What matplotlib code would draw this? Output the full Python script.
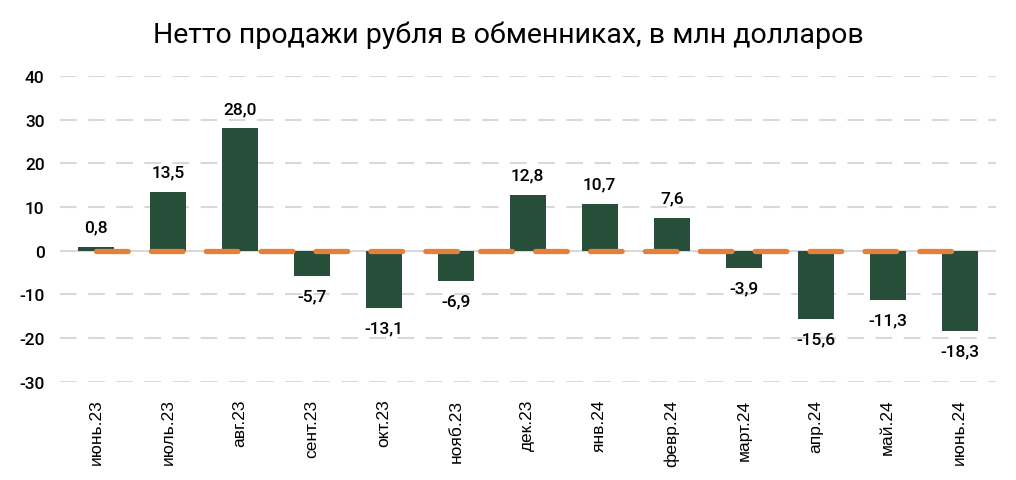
import numpy as np
import matplotlib
matplotlib.use("Agg")
import matplotlib.pyplot as plt

# данные
months = ["июнь.23", "июль.23", "авг.23", "сент.23", "окт.23", "нояб.23", "дек.23",
          "янв.24", "февр.24", "март.24", "апр.24", "май.24", "июнь.24"]
net_sales = [0.8, 13.5, 28.0, -5.7, -13.1, -6.9, 12.8, 10.7, 7.6, -3.9, -15.6, -11.3, -18.3]
zero_line = [0] * len(months)
y_ticks = [-30, -20, -10, 0, 10, 20, 30, 40]

bar_color = "#274e38"
orange = "#e3813b"
grid_color = "#d9d9d9"

fig = plt.figure(figsize=(10.16, 4.81), dpi=100)
ax = fig.add_axes([0.059, 0.204, 0.921, 0.636])

x = np.arange(len(months))

# сетка
for t in y_ticks:
    if t == 0:
        ax.axhline(t, color=grid_color, lw=1.5, zorder=0)
    else:
        ax.axhline(t, color=grid_color, lw=1.5, dashes=(8, 5.5), zorder=0)

ax.bar(x, net_sales, width=0.5, color=bar_color, zorder=2)
ax.plot(x, zero_line, color=orange, lw=3.8, dashes=(6.0, 4.4),
        dash_capstyle="round", solid_capstyle="round", zorder=3)

for xi, v in zip(x, net_sales):
    label = f"{v:.1f}".replace(".", ",")
    off = 9 if v >= 0 else -9
    ax.annotate(label, (xi, v), xytext=(0, off), textcoords="offset points",
                ha="center", va="bottom" if v >= 0 else "top", fontsize=12.5,
                family="Roboto", fontweight="medium")

ax.set_xlim(-0.5, len(months) - 0.5)
ax.set_ylim(-30, 40)
ax.set_yticks(y_ticks)
ax.set_yticklabels([str(t) for t in y_ticks], family="Roboto", fontweight="medium", fontsize=12.5)
ax.set_xticks(x)
ax.set_xticklabels(months, rotation=90, family="Liberation Sans", fontsize=12.5)
ax.tick_params(length=0)
ax.tick_params(axis="y", pad=11)
ax.tick_params(axis="x", pad=12)
for s in ax.spines.values():
    s.set_visible(False)

fig.suptitle("Нетто продажи рубля в обменниках, в млн долларов", y=0.955,
             fontsize=20.5, family="Roboto", fontweight="normal")

fig.savefig("out.png", dpi=100)
